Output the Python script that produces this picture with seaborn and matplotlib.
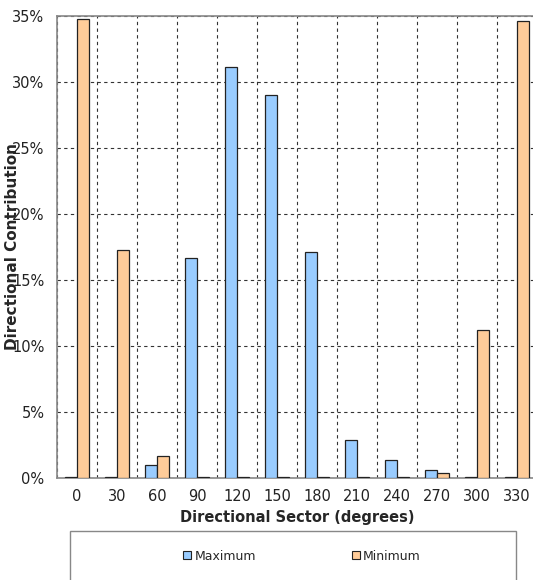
import matplotlib
matplotlib.use("Agg")
import matplotlib.pyplot as plt
from matplotlib.patches import Rectangle, Patch
import seaborn as sns
import pandas as pd
import numpy as np

sectors = ["0", "30", "60", "90", "120", "150", "180", "210", "240", "270", "300", "330"]
maximum = [0.05, 0.05, 1.0, 16.7, 31.1, 29.0, 17.1, 2.9, 1.4, 0.6, 0.05, 0.05]
minimum = [34.8, 17.3, 1.7, 0.05, 0.05, 0.05, 0.05, 0.05, 0.05, 0.35, 11.2, 34.6]
series_names = ["Maximum", "Minimum"]
yticks = [0, 5, 10, 15, 20, 25, 30, 35]
colors = ["#99CCFF", "#FFCC99"]

df = pd.DataFrame({
    "Sector": sectors * 2,
    "Series": [series_names[0]] * len(sectors) + [series_names[1]] * len(sectors),
    "Value": maximum + minimum,
})

sns.set_style("white")
plt.rcParams["font.family"] = ["DejaVu Sans"]

W, H = 533, 580
fig = plt.figure(figsize=(W / 100, H / 100), dpi=100)
ax = fig.add_axes([57 / W, (H - 478) / H, 480 / W, 462 / H])

sns.barplot(data=df, x="Sector", y="Value", hue="Series", order=sectors,
            hue_order=series_names, palette=colors, saturation=1,
            width=0.58, edgecolor="#222222", linewidth=0.9, ax=ax,
            legend=False, zorder=3)

ax.set_xlim(-0.5, len(sectors) - 0.5)
ax.set_ylim(0, 35)
ax.set_yticks(yticks)
ax.set_yticklabels([f"{v}%" for v in yticks], fontsize=10.5, color="#222222")
ax.set_xticks(range(len(sectors)))
ax.set_xticklabels(sectors, fontsize=10.5, color="#222222")
ax.set_xticks(np.arange(-0.5, len(sectors), 1.0), minor=True)
ax.tick_params(axis="x", which="major", length=0, pad=8)
ax.tick_params(axis="x", which="minor", length=5, width=0.8, color="#555555", direction="out")
ax.tick_params(axis="y", which="major", length=5, width=0.8, color="#555555", direction="out", pad=4)

ax.grid(False)
ax.xaxis.grid(True, which="minor", linestyle=(0, (3, 3)), color="#333333", linewidth=0.8, zorder=0)
ax.yaxis.grid(True, which="major", linestyle=(0, (3, 3)), color="#333333", linewidth=0.8, zorder=0)
ax.set_axisbelow(True)

for side in ["left", "bottom", "top", "right"]:
    ax.spines[side].set_visible(True)
    ax.spines[side].set_color("#888888")
    ax.spines[side].set_linewidth(1.2)

ax.set_xlabel("Directional Sector (degrees)", fontsize=10.5, fontweight="bold", labelpad=4)
ax.set_ylabel("Directional Contribution", fontsize=11, fontweight="bold")
ax.yaxis.set_label_coords(-0.077, 0.5)

# legend frame
fig.add_artist(Rectangle((70 / W, -0.05), (516 - 70) / W, (H - 531) / H + 0.05,
                         transform=fig.transFigure, facecolor="white",
                         edgecolor="#888888", linewidth=1.0))
handles = [Patch(facecolor=colors[0], edgecolor="#222222", linewidth=0.8),
           Patch(facecolor=colors[1], edgecolor="#222222", linewidth=0.8)]
fig.legend(handles, series_names, loc="center", bbox_to_anchor=(302 / W, (H - 556) / H),
           ncol=2, frameon=False, fontsize=9, handlelength=0.65, handleheight=0.65,
           handletextpad=0.25, columnspacing=7.7)

fig.savefig("out.png", dpi=100)
